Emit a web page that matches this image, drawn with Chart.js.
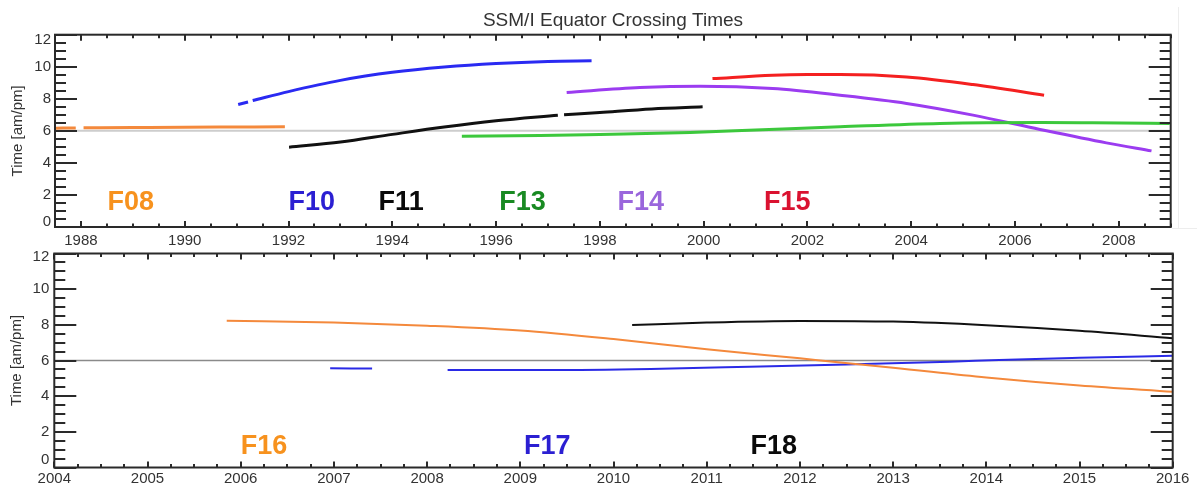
<!DOCTYPE html>
<html><head><meta charset="utf-8">
<script src="https://cdn.jsdelivr.net/npm/chart.js@4/dist/chart.umd.min.js"></script>
<style>
html,body{margin:0;padding:0;background:#fff;}
#wrap{position:relative;width:1197px;height:488px;overflow:hidden;background:#fff;}
#c1{position:absolute;left:0;top:0;width:1197px;height:250px;}
#c2{position:absolute;left:0;top:250px;width:1197px;height:238px;}
#edgeV{position:absolute;left:1178px;top:7px;width:1px;height:221px;background:#ededed;}
#edgeH{position:absolute;left:1172px;top:228px;width:25px;height:1px;background:#ededed;}
</style></head><body>
<div id="wrap">
<canvas id="c1" width="1197" height="250"></canvas>
<canvas id="c2" width="1197" height="238"></canvas>
<div id="edgeV"></div><div id="edgeH"></div>
</div>
<script>
// ---------------- DATA (top panel: 1987.5 - 2009) ----------------
const f08Years = [1987.52, 1987.90, 1987.97, 1988.05, 1989.0, 1990.0, 1991.0, 1991.93];
const f08Times = [6.17, 6.18, null, 6.19, 6.21, 6.23, 6.24, 6.25];
const f10Years = [1991.03, 1991.22, 1991.26, 1991.31, 1992.0, 1993.0, 1994.0, 1995.0, 1996.0, 1997.0, 1997.84];
const f10Times = [7.64, 7.80, null, 7.89, 8.45, 9.15, 9.65, 9.98, 10.20, 10.33, 10.37];
const f11Years = [1992.01, 1993.0, 1994.0, 1995.0, 1996.0, 1997.19, 1997.25, 1997.31, 1998.0, 1999.0, 1999.98];
const f11Times = [4.98, 5.30, 5.78, 6.24, 6.63, 6.98, null, 7.00, 7.15, 7.37, 7.50];
const f13Years = [1995.34, 1996.85, 1998.0, 1999.74, 2001.0, 2002.63, 2004.55, 2006.48, 2007.5, 2008.98];
const f13Times = [5.67, 5.71, 5.78, 5.90, 6.05, 6.25, 6.46, 6.52, 6.50, 6.46];
const f14Years = [1997.36, 1998.77, 1999.93, 2001.33, 2002.63, 2003.91, 2005.19, 2006.48, 2007.76, 2008.63];
const f14Times = [8.39, 8.70, 8.79, 8.64, 8.22, 7.71, 6.98, 6.09, 5.25, 4.75];
const f15Years = [2000.17, 2001.33, 2002.0, 2002.63, 2003.91, 2005.19, 2006.56];
const f15Times = [9.26, 9.47, 9.51, 9.51, 9.36, 8.89, 8.22];

// ---------------- DATA (bottom panel: 2004 - 2016) ----------------
const f16Years = [2005.85, 2007.0, 2008.0, 2009.0, 2010.0, 2011.0, 2012.0, 2013.0, 2014.0, 2015.0, 2016.0];
const f16Times = [8.23, 8.13, 7.95, 7.68, 7.20, 6.63, 6.12, 5.60, 5.05, 4.60, 4.25];
const f17Years = [2006.96, 2007.41, 2007.80, 2008.22, 2009.32, 2010.40, 2011.46, 2012.50, 2013.61, 2014.14, 2015.0, 2016.0];
const f17Times = [5.56, 5.55, null, 5.47, 5.47, 5.53, 5.65, 5.78, 5.93, 6.03, 6.15, 6.27];
const f18Years = [2010.2, 2011.0, 2012.0, 2013.0, 2014.0, 2015.0, 2016.0];
const f18Times = [7.99, 8.13, 8.22, 8.18, 7.98, 7.67, 7.25];

// ---------------- TICKS & LABELS ----------------
const timeTicks = [0, 2, 4, 6, 8, 10, 12];
const topYearTicks = [1988, 1990, 1992, 1994, 1996, 1998, 2000, 2002, 2004, 2006, 2008];
const bottomYearTicks = [2004, 2005, 2006, 2007, 2008, 2009, 2010, 2011, 2012, 2013, 2014, 2015, 2016];
const referenceTime = 6;

const topSatNames = ['F08', 'F10', 'F11', 'F13', 'F14', 'F15'];
const topSatLabelYears = [1988.96, 1992.45, 1994.17, 1996.51, 1998.79, 2001.61];
const topSatLabelTimes = [1.5, 1.5, 1.5, 1.5, 1.5, 1.5];
const bottomSatNames = ['F16', 'F17', 'F18'];
const bottomSatLabelYears = [2006.25, 2009.29, 2011.72];
const bottomSatLabelTimes = [1.17, 1.17, 1.17];

const chartTitle = 'SSM/I Equator Crossing Times';
const yAxisTitle = 'Time [am/pm]';

// ---------------- STYLES ----------------
const lineColors = {F08:'#f4893c', F10:'#2a2af2', F11:'#111111', F13:'#3cc83c', F14:'#9b3cf0', F15:'#f42020',
                    F16:'#f4893c', F17:'#2a2ae6', F18:'#111111'};
const labelColors = {F08:'#f7921e', F10:'#2b1fd2', F11:'#0a0a0a', F13:'#198a22', F14:'#9a66dc', F15:'#da1230',
                     F16:'#f7921e', F17:'#2b1fd2', F18:'#0a0a0a'};

function pts(xs, ys){ return xs.map((x,i)=>({x:x, y:ys[i]})); }
function ds(name, xs, ys, w){
  return {label:name, data:pts(xs, ys), borderColor:lineColors[name], borderWidth:w,
          pointRadius:0, fill:false, spanGaps:false, tension:0.4, cubicInterpolationMode:'monotone', order:0};
}
function refDs(xmin, xmax, color, w){
  return {label:'ref', data:[{x:xmin,y:referenceTime},{x:xmax,y:referenceTime}], borderColor:color,
          borderWidth:w, pointRadius:0, fill:false, tension:0, order:10};
}

const FONT = '"Liberation Sans", Arial, Helvetica, sans-serif';

function framePlugin(p){
  return {
    id:'frame',
    afterDatasetsDraw(chart){
      const ctx = chart.ctx, xs = chart.scales.x, ys = chart.scales.y, a = chart.chartArea;
      ctx.save();
      // satellite labels
      ctx.font = 'bold 27px ' + FONT;
      ctx.textAlign = 'center'; ctx.textBaseline = 'middle';
      p.satNames.forEach((n,i)=>{
        ctx.fillStyle = labelColors[n];
        ctx.fillText(n, xs.getPixelForValue(p.satYears[i]), ys.getPixelForValue(p.satTimes[i]));
      });
      // ticks
      ctx.strokeStyle = '#2a2a2a'; ctx.lineWidth = 2; ctx.lineCap = 'butt';
      ctx.beginPath();
      for (let v = 0; v <= 12.0001; v += 0.5){
        const y = Math.round(ys.getPixelForValue(v)) ;
        const L = (Math.abs(v % 2) < 1e-6) ? 22 : 11;
        ctx.moveTo(a.left, y); ctx.lineTo(a.left + L, y);
        ctx.moveTo(a.right, y); ctx.lineTo(a.right - L, y);
      }
      const start = Math.ceil(xs.min / p.xMinor) * p.xMinor;
      for (let v = start; v <= xs.max + 1e-6; v += p.xMinor){
        const x = Math.round(xs.getPixelForValue(v));
        const major = p.xMajor.some(m => Math.abs(m - v) < 1e-6);
        const L = major ? 6 : 3.5;
        ctx.moveTo(x, a.bottom); ctx.lineTo(x, a.bottom - L);
        ctx.moveTo(x, a.top); ctx.lineTo(x, a.top + L);
      }
      ctx.stroke();
      ctx.strokeRect(a.left, a.top, a.right - a.left, a.bottom - a.top);
      // tick labels
      ctx.fillStyle = '#333333';
      ctx.font = '15px ' + FONT;
      ctx.textAlign = 'right'; ctx.textBaseline = 'middle';
      timeTicks.forEach(v=>{
        let y = ys.getPixelForValue(v);
        if (v === 12) y += p.topLabelShift;
        if (v === 0) y -= p.bottomLabelShift;
        ctx.fillText(String(v), a.left - p.yLabelGap, y);
      });
      ctx.textAlign = 'center';
      p.xMajor.forEach(v=>{
        ctx.fillText(String(v), xs.getPixelForValue(v), a.bottom + p.xLabelOffset);
      });
      // y axis title
      ctx.save();
      ctx.translate(p.yTitleX, (a.top + a.bottom) / 2 + p.yTitleShift);
      ctx.rotate(-Math.PI / 2);
      ctx.font = '15px ' + FONT;
      ctx.fillText(yAxisTitle, 0, 0);
      ctx.restore();
      // chart title
      if (p.title){
        ctx.font = '19px ' + FONT;
        ctx.fillStyle = '#333333';
        ctx.fillText(p.title, p.titleX, p.titleY);
      }
      ctx.restore();
    }
  };
}

function baseOptions(xmin, xmax, pad){
  return {
    responsive:false, animation:false, events:[],
    layout:{padding:pad},
    plugins:{legend:{display:false}, tooltip:{enabled:false}, title:{display:false}},
    scales:{
      x:{type:'linear', min:xmin, max:xmax, display:false},
      y:{type:'linear', min:0, max:12, display:false}
    }
  };
}

new Chart(document.getElementById('c1'), {
  type:'line',
  data:{datasets:[
    ds('F08', f08Years, f08Times, 3),
    ds('F10', f10Years, f10Times, 3),
    ds('F11', f11Years, f11Times, 3),
    ds('F13', f13Years, f13Times, 3),
    ds('F14', f14Years, f14Times, 3),
    ds('F15', f15Years, f15Times, 3),
    refDs(1987.5, 2009, '#cdcdcd', 2)
  ]},
  options:baseOptions(1987.5, 2009, {left:55, right:26.3, top:34.7, bottom:23}),
  plugins:[framePlugin({
    satNames:topSatNames, satYears:topSatLabelYears, satTimes:topSatLabelTimes,
    xMajor:topYearTicks, xMinor:0.5, topLabelShift:5.3, bottomLabelShift:5.3, yLabelGap:4,
    xLabelOffset:14, yTitleX:18, yTitleShift:0, title:chartTitle, titleX:613, titleY:21
  })]
});

new Chart(document.getElementById('c2'), {
  type:'line',
  data:{datasets:[
    ds('F16', f16Years, f16Times, 2),
    ds('F17', f17Years, f17Times, 2),
    ds('F18', f18Years, f18Times, 2),
    refDs(2004, 2016, '#8a8a8a', 1.3)
  ]},
  options:baseOptions(2004, 2016, {left:54.3, right:24.3, top:3.5, bottom:20.5}),
  plugins:[framePlugin({
    satNames:bottomSatNames, satYears:bottomSatLabelYears, satTimes:bottomSatLabelTimes,
    xMajor:bottomYearTicks, xMinor:0.25, topLabelShift:3.2, bottomLabelShift:7.5, yLabelGap:5,
    xLabelOffset:11.5, yTitleX:17, yTitleShift:0, title:null
  })]
});
</script>
</body></html>
